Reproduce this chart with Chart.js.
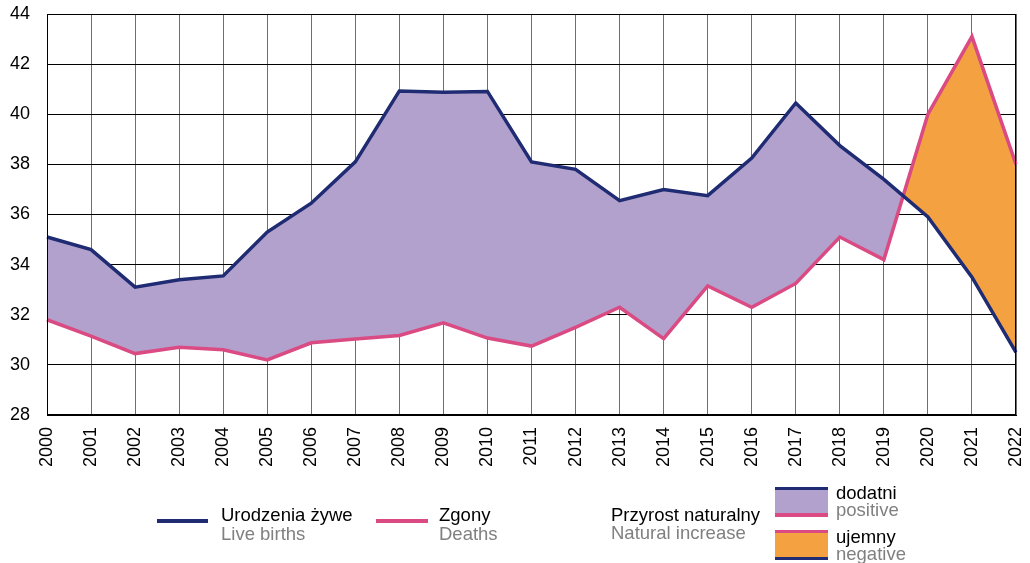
<!DOCTYPE html>
<html><head><meta charset="utf-8">
<script src="https://cdn.jsdelivr.net/npm/chart.js@4"></script>
<style>
html,body{margin:0;padding:0;background:#fff;}
#wrap{position:relative;width:1030px;height:563px;font-family:"Liberation Sans",Arial,sans-serif;font-size:18.5px;}
#wrap canvas{position:absolute;left:0;top:0;}
.t{position:absolute;white-space:nowrap;line-height:18px;}
.g{color:#808080;}
.ln{position:absolute;height:4px;}
.bx{position:absolute;}
</style></head>
<body>
<div id="wrap">
<canvas id="c" width="1030" height="563"></canvas>
<div class="ln" style="left:157px;top:519px;width:51px;background:#1f2b72;"></div>
<div class="t" style="left:221px;top:505.5px;">Urodzenia żywe</div>
<div class="t g" style="left:221px;top:524.5px;">Live births</div>
<div class="ln" style="left:376px;top:519px;width:52px;background:#d94b82;"></div>
<div class="t" style="left:439px;top:505.5px;">Zgony</div>
<div class="t g" style="left:439px;top:524.5px;">Deaths</div>
<div class="t" style="left:611px;top:505.5px;">Przyrost naturalny</div>
<div class="t g" style="left:611px;top:524px;">Natural increase</div>
<div class="bx" style="left:775px;top:487px;width:53px;height:3px;background:#1f2b72;"></div>
<div class="bx" style="left:775px;top:490px;width:53px;height:23px;background:#b3a1cd;"></div>
<div class="bx" style="left:775px;top:513px;width:53px;height:4px;background:#d94b82;"></div>
<div class="t" style="left:836px;top:483.5px;">dodatni</div>
<div class="t g" style="left:836px;top:500.5px;">positive</div>
<div class="bx" style="left:775px;top:530px;width:53px;height:3px;background:#d94b82;"></div>
<div class="bx" style="left:775px;top:533px;width:53px;height:24px;background:#f4a241;"></div>
<div class="bx" style="left:775px;top:557px;width:53px;height:3px;background:#1f2b72;"></div>
<div class="t" style="left:836px;top:527.5px;">ujemny</div>
<div class="t g" style="left:836px;top:544.5px;">negative</div>
</div>
<script>
const years = ['2000','2001','2002','2003','2004','2005','2006','2007','2008','2009','2010','2011','2012','2013','2014','2015','2016','2017','2018','2019','2020','2021','2022'];
const liveBirths = [35.1,34.6,33.1,33.4,33.55,35.3,36.45,38.1,40.93,40.88,40.91,38.1,37.8,36.55,37.0,36.75,38.25,40.45,38.75,37.4,35.9,33.5,30.5];
const deaths = [31.8,31.15,30.45,30.7,30.6,30.2,30.88,31.03,31.17,31.68,31.07,30.75,31.5,32.3,31.05,33.15,32.3,33.25,35.1,34.2,40.0,43.1,38.0];
const yTicks = {min:28, max:44, step:2};

const NAVY='#1f2b72', PINK='#d94b82', PURPLE='#b3a1cd', ORANGE='#f4a241';
const FONT={family:'"Liberation Sans", Arial, sans-serif', size:18};

function noPad(s){ s.paddingTop=0; s.paddingBottom=0; s.paddingLeft=0; s.paddingRight=0; }

new Chart(document.getElementById('c'), {
  type:'line',
  data:{
    labels:years,
    datasets:[
      {label:'Urodzenia żywe', data:liveBirths, borderColor:NAVY, borderWidth:3.5, pointRadius:0, tension:0,
       borderJoinStyle:'miter', fill:{target:'+1', above:PURPLE, below:ORANGE}, backgroundColor:PURPLE},
      {label:'Zgony', data:deaths, borderColor:PINK, borderWidth:3.5, pointRadius:0, tension:0,
       borderJoinStyle:'miter', fill:false}
    ]
  },
  options:{
    responsive:false, animation:false,
    layout:{padding:{top:14, right:14, left:0, bottom:0}},
    plugins:{legend:{display:false}, tooltip:{enabled:false}, filler:{drawTime:'beforeDatasetsDraw'}},
    scales:{
      x:{
        type:'category', offset:false,
        grid:{color:'#6e6e6e', lineWidth:1, drawTicks:false},
        border:{color:'#000', width:1},
        ticks:{color:'#000', font:FONT, maxRotation:90, minRotation:90, padding:12, autoSkip:false},
        afterFit(s){ s.height = 148; noPad(s); }
      },
      y:{
        min:yTicks.min, max:yTicks.max,
        grid:{color:'#000', lineWidth:1, drawTicks:false},
        border:{color:'#000', width:1},
        ticks:{color:'#000', font:FONT, stepSize:yTicks.step, padding:17},
        afterFit(s){ s.width = 47; noPad(s); }
      }
    }
  },
  plugins:[{
    id:'frame',
    afterDraw(chart){
      const a=chart.chartArea, ctx=chart.ctx;
      ctx.save(); ctx.strokeStyle='#000'; ctx.lineWidth=1;
      ctx.strokeRect(Math.round(a.left)+0.5, Math.round(a.top)+0.5, Math.round(a.right-a.left)-1, Math.round(a.bottom-a.top)-1);
      ctx.restore();
    }
  }]
});
</script>
</body></html>
